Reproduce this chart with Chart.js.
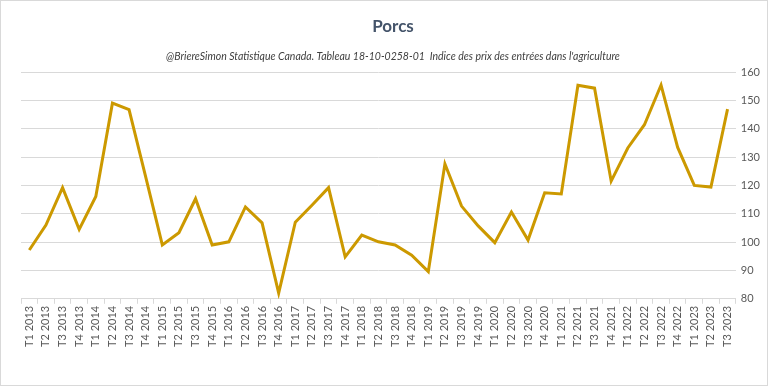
<!DOCTYPE html>
<html>
<head>
    <title>Porcs</title>
    <script src="https://cdn.jsdelivr.net/npm/chart.js"></script>
    <style>
        body { margin: 0; background: #fff; }
        .wrap { width: 768px; height: 386px; box-sizing: border-box; border: 1px solid #d9d9d9; }
        canvas { display: block; }
    </style>
</head>
<body>
    <div class="wrap">
        <canvas id="porcsChart" width="766" height="384"></canvas>
    </div>

    <script>
    const quarters = [
        'T1 2013', 'T2 2013', 'T3 2013', 'T4 2013',
        'T1 2014', 'T2 2014', 'T3 2014', 'T4 2014',
        'T1 2015', 'T2 2015', 'T3 2015', 'T4 2015',
        'T1 2016', 'T2 2016', 'T3 2016', 'T4 2016',
        'T1 2017', 'T2 2017', 'T3 2017', 'T4 2017',
        'T1 2018', 'T2 2018', 'T3 2018', 'T4 2018',
        'T1 2019', 'T2 2019', 'T3 2019', 'T4 2019',
        'T1 2020', 'T2 2020', 'T3 2020', 'T4 2020',
        'T1 2021', 'T2 2021', 'T3 2021', 'T4 2021',
        'T1 2022', 'T2 2022', 'T3 2022', 'T4 2022',
        'T1 2023', 'T2 2023', 'T3 2023'
    ];

    // indice des prix, porcs
    const indice = [
        97.2, 106.0, 119.2, 104.5,
        116.1, 149.0, 146.7, 123.0,
        99.0, 103.3, 115.3, 99.0,
        100.1, 112.4, 106.8, 82.0,
        107.0, 113.0, 119.2, 94.8,
        102.5, 100.1, 99.0, 95.4,
        89.6, 127.6, 112.7, 105.7,
        99.8, 110.6, 100.7, 117.4,
        117.0, 155.3, 154.3, 121.5,
        133.2, 141.4, 155.4, 133.4,
        120.0, 119.4, 146.9
    ];

    const yMin = 80;
    const yMax = 160;
    const yStep = 10;

    const font = 'Lato, "Open Sans", sans-serif';

    new Chart(document.getElementById('porcsChart'), {
        type: 'line',
        data: {
            labels: quarters,
            datasets: [{
                label: 'Porcs',
                data: indice,
                borderColor: '#cc9900',
                borderWidth: 3,
                pointRadius: 0,
                tension: 0,
                fill: false
            }]
        },
        options: {
            responsive: false,
            animation: false,
            layout: { padding: { left: 20, right: 2, top: 0, bottom: 36 } },
            plugins: {
                legend: { display: false },
                tooltip: { enabled: false },
                title: {
                    display: true,
                    text: 'Porcs',
                    color: '#44546a',
                    font: { family: font, size: 17, weight: 'bold' },
                    padding: { top: 15, bottom: 14 }
                },
                subtitle: {
                    display: true,
                    text: "@BriereSimon Statistique Canada. Tableau 18-10-0258-01  Indice des prix des entrées dans l'agriculture",
                    color: '#404040',
                    font: { family: font, size: 10.5, style: 'italic' },
                    padding: { bottom: 9 }
                }
            },
            scales: {
                x: {
                    offset: true,
                    grid: {
                        display: true,
                        drawOnChartArea: false,
                        offset: true,
                        tickLength: 5,
                        color: '#d9d9d9'
                    },
                    border: { color: '#d9d9d9' },
                    ticks: {
                        color: '#595959',
                        font: { family: font, size: 11 },
                        minRotation: 90,
                        maxRotation: 90,
                        autoSkip: false,
                        padding: 2
                    }
                },
                y: {
                    position: 'right',
                    min: yMin,
                    max: yMax,
                    grid: { color: '#d9d9d9', drawTicks: false },
                    border: { display: false },
                    ticks: {
                        stepSize: yStep,
                        color: '#595959',
                        font: { family: font, size: 11 },
                        padding: 5
                    }
                }
            }
        }
    });
    </script>
</body>
</html>
